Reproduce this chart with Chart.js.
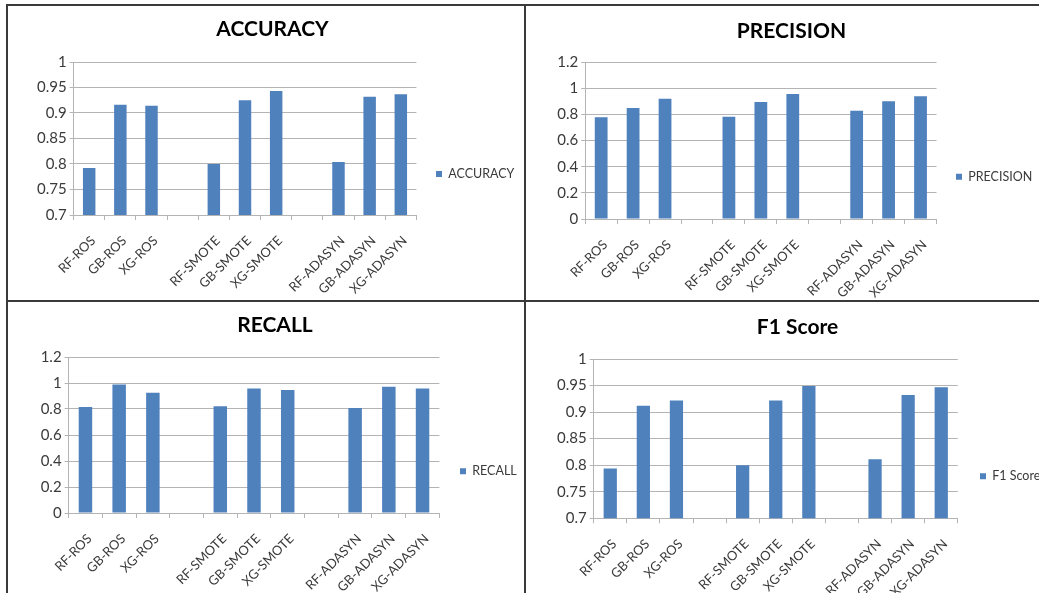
<!DOCTYPE html>
<html>
<head>
<meta charset="utf-8">
<script src="https://cdn.jsdelivr.net/npm/chart.js@4.4.1/dist/chart.umd.min.js"></script>
<style>
  html, body { margin: 0; padding: 0; background: #fff; }
  #sheet { position: relative; width: 1039px; height: 593px; overflow: hidden; background: #fff; }
  #sheet canvas { position: absolute; }
  .rule { position: absolute; background: #3a3a3a; }
</style>
</head>
<body>
<div id="sheet">
  <canvas id="accChart"></canvas>
  <canvas id="precChart"></canvas>
  <canvas id="recChart"></canvas>
  <canvas id="f1Chart"></canvas>
  <div class="rule" style="left:6px; top:4px; width:1033px; height:2px"></div>
  <div class="rule" style="left:6px; top:4px; width:2px; height:589px"></div>
  <div class="rule" style="left:524px; top:4px; width:2px; height:589px"></div>
  <div class="rule" style="left:6px; top:300px; width:1033px; height:2px"></div>
</div>
<script>
// Model / resampling combinations (blank slots separate the three resampling groups)
const categories = ['RF-ROS', 'GB-ROS', 'XG-ROS', '', 'RF-SMOTE', 'GB-SMOTE', 'XG-SMOTE', '', 'RF-ADASYN', 'GB-ADASYN', 'XG-ADASYN'];

const accuracyValues  = [0.792, 0.916, 0.914, null, 0.800, 0.925, 0.943, null, 0.804, 0.932, 0.937];
const precisionValues = [0.779, 0.850, 0.921, null, 0.783, 0.896, 0.957, null, 0.829, 0.901, 0.940];
const recallValues    = [0.815, 0.989, 0.925, null, 0.822, 0.958, 0.946, null, 0.807, 0.971, 0.958];
const f1Values        = [0.794, 0.912, 0.922, null, 0.800, 0.922, 0.949, null, 0.811, 0.932, 0.947];

const narrowTicks = [0.7, 0.75, 0.8, 0.85, 0.9, 0.95, 1];
const wideTicks   = [0, 0.2, 0.4, 0.6, 0.8, 1, 1.2];

const FONT = 'Lato';
const BAR = '#4f81bd';
const GRID = '#b4b4b4';
const TEXT = '#3a3a3a';

// Page placement of each chart: canvas box, plot frame, title centre, legend swatch
const panels = [
  { id: 'accChart',  name: 'ACCURACY',  values: accuracyValues,  ticks: narrowTicks,
    box: { x: 9,   y: 7,   w: 527, h: 293 }, plot: { l: 73.6,  r: 416.4, t: 62,   b: 215 },
    titleY: 29.5, legend: { x: 436,   y: 174 } },
  { id: 'precChart', name: 'PRECISION', values: precisionValues, ticks: wideTicks,
    box: { x: 527, y: 7,   w: 529, h: 293 }, plot: { l: 585.2, r: 936.5, t: 62.3, b: 219 },
    titleY: 31, legend: { x: 956,   y: 176.7 } },
  { id: 'recChart',  name: 'RECALL',    values: recallValues,    ticks: wideTicks,
    box: { x: 9,   y: 303, w: 532, h: 290 }, plot: { l: 68.6,  r: 439.4, t: 357,  b: 513 },
    titleY: 325, legend: { x: 460,  y: 471.3 } },
  { id: 'f1Chart',   name: 'F1 Score',  values: f1Values,        ticks: narrowTicks,
    box: { x: 527, y: 303, w: 541, h: 290 }, plot: { l: 593.7, r: 957.8, t: 359,  b: 518.3 },
    titleY: 327, legend: { x: 980, y: 476.3 } }
];

function buildChart(p) {
  const cv = document.getElementById(p.id);
  cv.width = p.box.w;
  cv.height = p.box.h;
  cv.style.left = p.box.x + 'px';
  cv.style.top = p.box.y + 'px';
  cv.style.width = p.box.w + 'px';
  cv.style.height = p.box.h + 'px';

  const plotL = p.plot.l - p.box.x;
  const plotR = p.plot.r - p.box.x;
  const plotT = p.plot.t - p.box.y;
  const plotB = p.plot.b - p.box.y;

  const titleSize = 21;
  const titleLine = titleSize * 1.2;
  const titlePadTop = p.titleY - p.box.y - titleLine / 2;
  const titlePadBottom = plotT - titleLine - titlePadTop;

  const legendPad = 10;
  const legendWidth = p.box.w - plotR;

  // Keeps the legend column at a fixed width and pins its swatch to a set spot
  const pinLegend = {
    id: 'pinLegend',
    beforeUpdate(chart) {
      const lg = chart.legend;
      if (lg && !lg.__pinned) {
        const fit = lg.fit;
        lg.fit = function () { fit.call(this); this.width = legendWidth; };
        lg.__pinned = true;
      }
    },
    afterLayout(chart) {
      const lg = chart.legend;
      if (!lg) return;
      const h = 60;
      lg.left = p.legend.x - p.box.x - legendPad;
      lg.right = lg.left + legendWidth;
      lg.top = p.legend.y - p.box.y - h / 2;
      lg.bottom = lg.top + h;
    }
  };

  return new Chart(cv, {
    type: 'bar',
    data: {
      labels: categories,
      datasets: [{
        label: p.name,
        data: p.values,
        backgroundColor: BAR,
        borderWidth: 0,
        barPercentage: 0.4,
        categoryPercentage: 1
      }]
    },
    options: {
      responsive: false,
      animation: false,
      devicePixelRatio: 1,
      events: [],
      layout: { padding: 0 },
      plugins: {
        title: {
          display: true,
          text: p.name,
          color: '#000',
          font: { family: FONT, weight: 'bold', size: titleSize, lineHeight: 1.2 },
          padding: { top: titlePadTop, bottom: titlePadBottom }
        },
        legend: {
          position: 'right',
          labels: {
            boxWidth: 6,
            boxHeight: 6,
            padding: legendPad,
            color: TEXT,
            font: { family: FONT, size: 12.5 }
          }
        },
        tooltip: { enabled: false }
      },
      scales: {
        x: {
          grid: { drawOnChartArea: false, drawTicks: true, tickLength: 5, offset: true, color: GRID },
          border: { color: GRID, width: 1 },
          ticks: {
            autoSkip: false, minRotation: 45, maxRotation: 45,
            padding: 13, labelOffset: 4,
            color: TEXT, font: { family: FONT, size: 13 }
          },
          afterFit(s) { s.height = p.box.h - plotB; }
        },
        y: {
          min: p.ticks[0],
          max: p.ticks[p.ticks.length - 1],
          afterBuildTicks(s) { s.ticks = p.ticks.map(v => ({ value: v })); },
          grid: { color: GRID, tickLength: 4 },
          border: { color: GRID, width: 1 },
          ticks: { padding: 3, color: TEXT, font: { family: FONT, size: 15 }, callback: v => String(v) },
          afterFit(s) { s.width = plotL; }
        }
      }
    },
    plugins: [pinLegend]
  });
}

panels.forEach(buildChart);
</script>
</body>
</html>
